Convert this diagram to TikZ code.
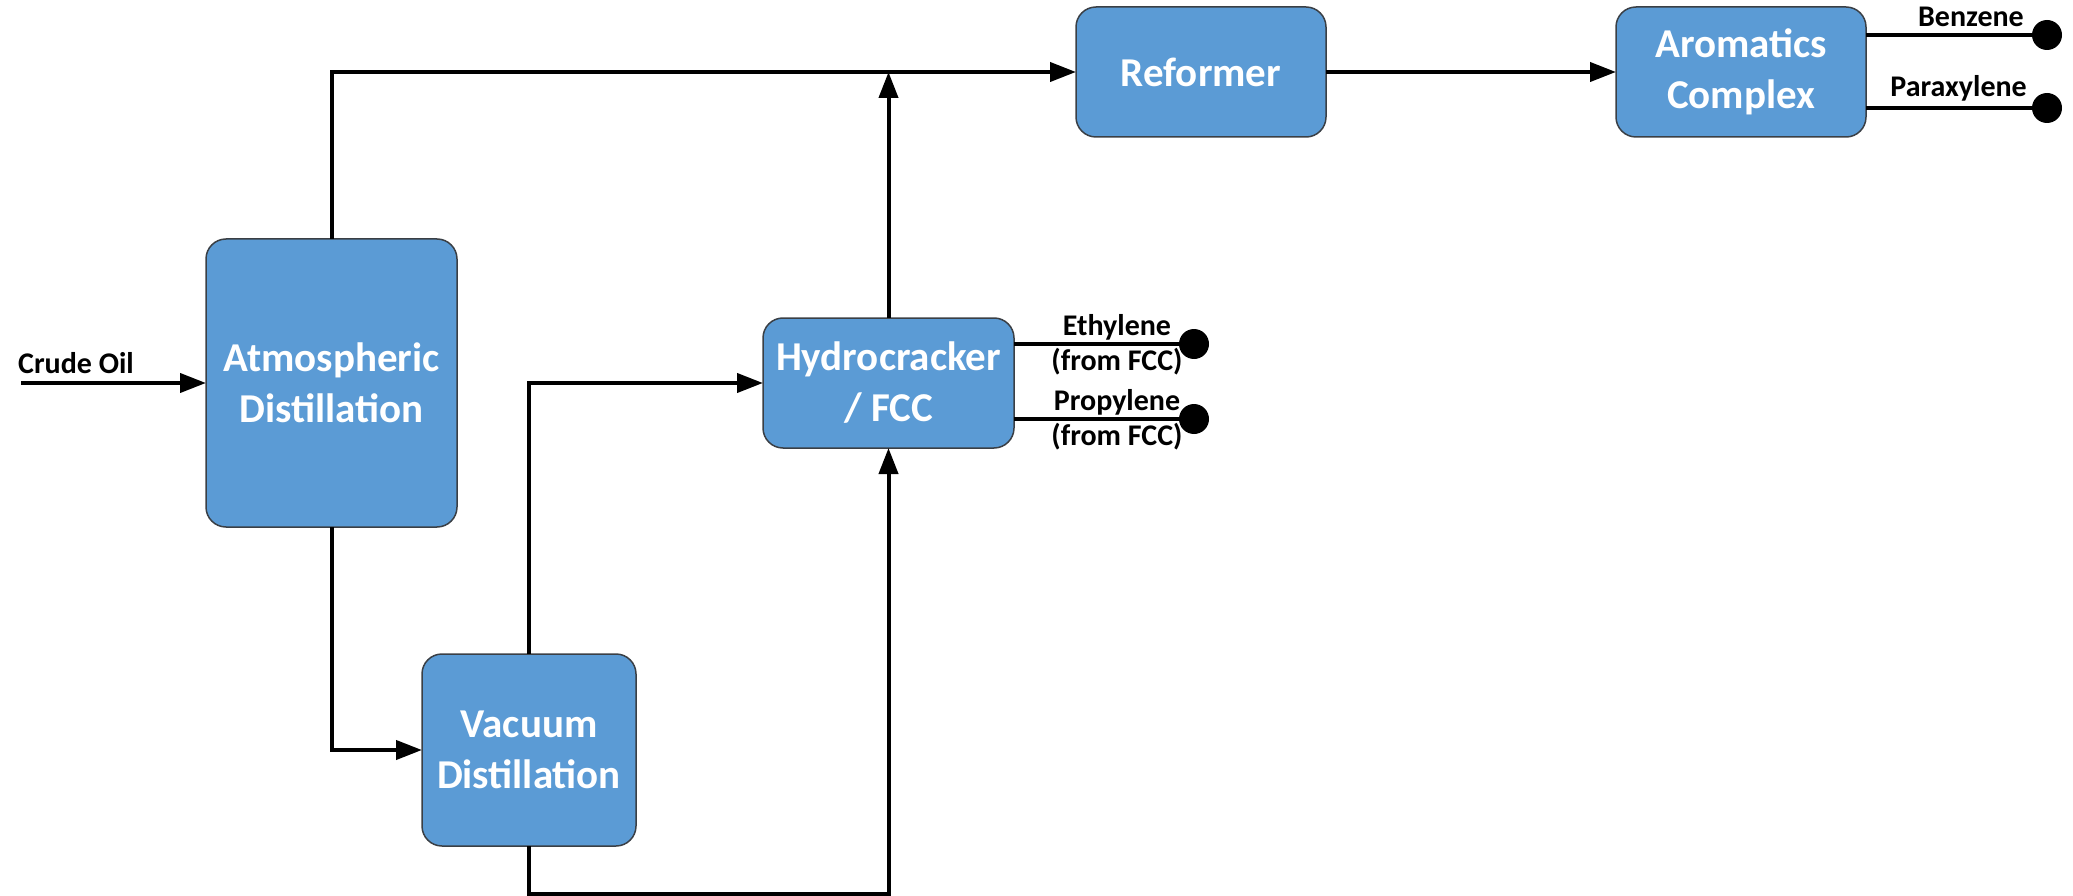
\documentclass[tikz,border=0pt]{standalone}
\usepackage{fontspec}
\setmainfont{Carlito}
\usetikzlibrary{arrows.meta}
\definecolor{unitblue}{HTML}{5B9BD5}
\definecolor{unitedge}{HTML}{3A3F45}
\begin{document}
\begin{tikzpicture}[x=1pt,y=-1pt,
  unit/.style={rectangle, rounded corners=20pt, fill=unitblue, draw=unitedge,
    line width=1.5pt, inner sep=0pt, outer sep=0pt, align=center, text=white,
    font=\fontsize{41}{51}\selectfont\bfseries},
  flow/.style={line width=4pt, -{Triangle[length=26pt,width=19pt]}},
  product/.style={line width=4pt},
  dot/.style={circle, fill=black, inner sep=0pt, minimum size=30pt},
  tag/.style={font=\fontsize{30}{35}\selectfont\bfseries, inner sep=0pt, align=center}]
\useasboundingbox (0,0) rectangle (2073,896);

% process units
\node[unit, minimum width=251pt, minimum height=288pt] (atm) at (331.5,383) {Atmospheric\\Distillation};
\node[unit, minimum width=214pt, minimum height=192pt] (vac) at (529,750) {Vacuum\\Distillation};
\node[unit, minimum width=251pt, minimum height=130pt] (hyd) at (888.5,383) {Hydrocracker\\/ FCC};
\node[unit, minimum width=250pt, minimum height=130pt] (ref) at (1201,72) {Reformer};
\node[unit, minimum width=250pt, minimum height=130pt] (aro) at (1741,72) {Aromatics\\Complex};

% product terminals
\node[dot] (bz) at (2047,35) {};
\node[dot] (px) at (2047,108) {};
\node[dot] (et) at (1194,344) {};
\node[dot] (pr) at (1194,419) {};

% feed and routing points
\coordinate (crude) at (21,383);
\coordinate (loop) at (529,894);
\coordinate (join) at (888.5,72);

% feed
\draw[flow] (crude) -- (atm.west);
\node[tag, anchor=base west] (crudetag) at (18,373) {Crude Oil};

% main flows
\draw[flow] (atm.north) |- (ref.west);
\draw[flow] (atm.south) |- (vac.west);
\draw[flow] (vac.north) |- (hyd.west);
\draw[flow] (vac.south) -- (loop) -| (hyd.south);
\draw[flow] (hyd.north) -- (join);
\draw[flow] (ref.east) -- (aro.west);

% products
\draw[product] (aro.east |- bz) -- (bz);
\draw[product] (aro.east |- px) -- (px);
\draw[product] (hyd.east |- et) -- (et);
\draw[product] (hyd.east |- pr) -- (pr);

% product names (base anchor sits on the last line)
\node[tag, anchor=base east] (bztag) at (2024,27) {Benzene};
\node[tag, anchor=base east] (pxtag) at (2027,97) {Paraxylene};
\node[tag, anchor=base] (ettag) at (1117,370) {Ethylene\\(from FCC)};
\node[tag, anchor=base] (prtag) at (1117,445) {Propylene\\(from FCC)};
\end{tikzpicture}
\end{document}
